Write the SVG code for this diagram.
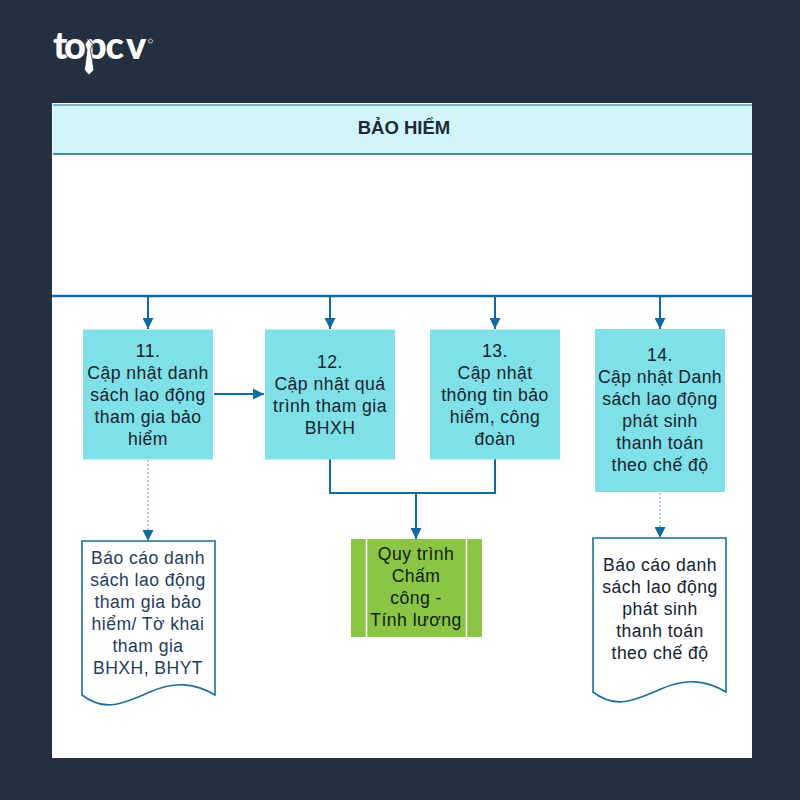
<svg xmlns="http://www.w3.org/2000/svg" width="800" height="800" viewBox="0 0 800 800">
<style>
.t{font-family:"Liberation Sans",Arial,sans-serif;font-size:17.6px;fill:#14232e;text-anchor:middle;letter-spacing:.45px}
.box{fill:#7fe0e8}
.doc{fill:#fff;stroke:#1a6f98;stroke-width:1.6}
.c{fill:none;stroke:#0f6a9e;stroke-width:2}
.d{fill:none;stroke:#8fc4d4;stroke-width:1.5;stroke-dasharray:2 2}
</style>
<defs><marker id="a" markerUnits="userSpaceOnUse" markerWidth="12" markerHeight="11" refX="11" refY="5.5" orient="auto"><path d="M0 0L11 5.5L0 11z" fill="#0f6a9e"/></marker></defs>
<rect width="800" height="800" fill="#22303f"/>
<g id="logo"><text x="53 64 85 105.500 126" y="59" font-family="Lato,'Liberation Sans',sans-serif" font-weight="900" font-size="38" fill="#fff">topcv</text><path d="M88.500 39L92.500 44L90.500 50L94 70L89 75L84.500 70L87 50L85 44Z" fill="#fff" stroke="#22303f" stroke-width=".8"/><circle cx="150.500" cy="41" r="2" fill="none" stroke="#b5bcc2"/></g>
<g id="panel"><rect x="52" y="103" width="700" height="655" fill="#fff"/></g>
<g id="header"><rect x="53" y="105" width="699" height="49" fill="#d1f5f8"/><path d="M53 105H752" stroke="#5f9bab" stroke-width="1.500"/><path d="M53 154H752" stroke="#4a8d9f" stroke-width="2"/><text x="404" y="134" font-family="'Liberation Sans',Arial,sans-serif" font-size="18.500" font-weight="700" fill="#1d2b36" text-anchor="middle">BẢO HIỂM</text></g>
<g id="connectors">
<path class="c" d="M52 296H752" style="stroke-width:2.500"/>
<path class="c" d="M148 296V329" marker-end="url(#a)"/>
<path class="c" d="M330 296V329" marker-end="url(#a)"/>
<path class="c" d="M495 296V329" marker-end="url(#a)"/>
<path class="c" d="M660 296V329" marker-end="url(#a)"/>
<path class="c" d="M214 394H264" marker-end="url(#a)"/>
<path class="c" d="M330 459V493H495V459M416 493V539" marker-end="url(#a)"/>
<path class="d" d="M148 460V541" marker-end="url(#a)"/>
<path class="d" d="M660 493V538" marker-end="url(#a)"/>
</g>
<g id="n11"><rect class="box" x="83" y="329.500" width="130" height="130"/><text class="t"><tspan x="148" y="357">11.</tspan><tspan x="148" y="379">Cập nhật danh</tspan><tspan x="148" y="401">sách lao động</tspan><tspan x="148" y="423">tham gia bảo</tspan><tspan x="148" y="445">hiểm</tspan></text></g>
<g id="n12"><rect class="box" x="265" y="329.500" width="130" height="130"/><text class="t"><tspan x="330" y="368">12.</tspan><tspan x="330" y="390">Cập nhật quá</tspan><tspan x="330" y="412">trình tham gia</tspan><tspan x="330" y="434">BHXH</tspan></text></g>
<g id="n13"><rect class="box" x="430" y="329.500" width="130" height="130"/><text class="t"><tspan x="495" y="357">13.</tspan><tspan x="495" y="379">Cập nhật</tspan><tspan x="495" y="401">thông tin bảo</tspan><tspan x="495" y="423">hiểm, công</tspan><tspan x="495" y="445">đoàn</tspan></text></g>
<g id="n14"><rect class="box" x="595" y="329" width="130" height="163"/><text class="t"><tspan x="660" y="361">14.</tspan><tspan x="660" y="383">Cập nhật Danh</tspan><tspan x="660" y="405">sách lao động</tspan><tspan x="660" y="427">phát sinh</tspan><tspan x="660" y="449">thanh toán</tspan><tspan x="660" y="471">theo chế độ</tspan></text></g>
<g id="doc11"><path class="doc" d="M82 541H215V695C195 683 175 681 150 692C125 703 105 713 82 695Z"/><text class="t" style="fill:#1f3d5c"><tspan x="148" y="564">Báo cáo danh</tspan><tspan x="148" y="586">sách lao động</tspan><tspan x="148" y="608">tham gia bảo</tspan><tspan x="148" y="630">hiểm/ Tờ khai</tspan><tspan x="148" y="652">tham gia</tspan><tspan x="148" y="674">BHXH, BHYT</tspan></text></g>
<g id="process"><rect x="351" y="539" width="131" height="98" fill="#8ac545"/><path d="M366.500 539V637M466.500 539V637" stroke="#fff" stroke-width="1.500"/><text class="t" style="fill:#10200a"><tspan x="416" y="560">Quy trình</tspan><tspan x="416" y="582">Chấm</tspan><tspan x="416" y="604">công -</tspan><tspan x="416" y="626">Tính lương</tspan></text></g>
<g id="doc14"><path class="doc" d="M593 538H726V692C706 680 686 678 661 689C636 700 616 710 593 692Z"/><text class="t"><tspan x="660" y="571">Báo cáo danh</tspan><tspan x="660" y="593">sách lao động</tspan><tspan x="660" y="615">phát sinh</tspan><tspan x="660" y="637">thanh toán</tspan><tspan x="660" y="659">theo chế độ</tspan></text></g>
</svg>
